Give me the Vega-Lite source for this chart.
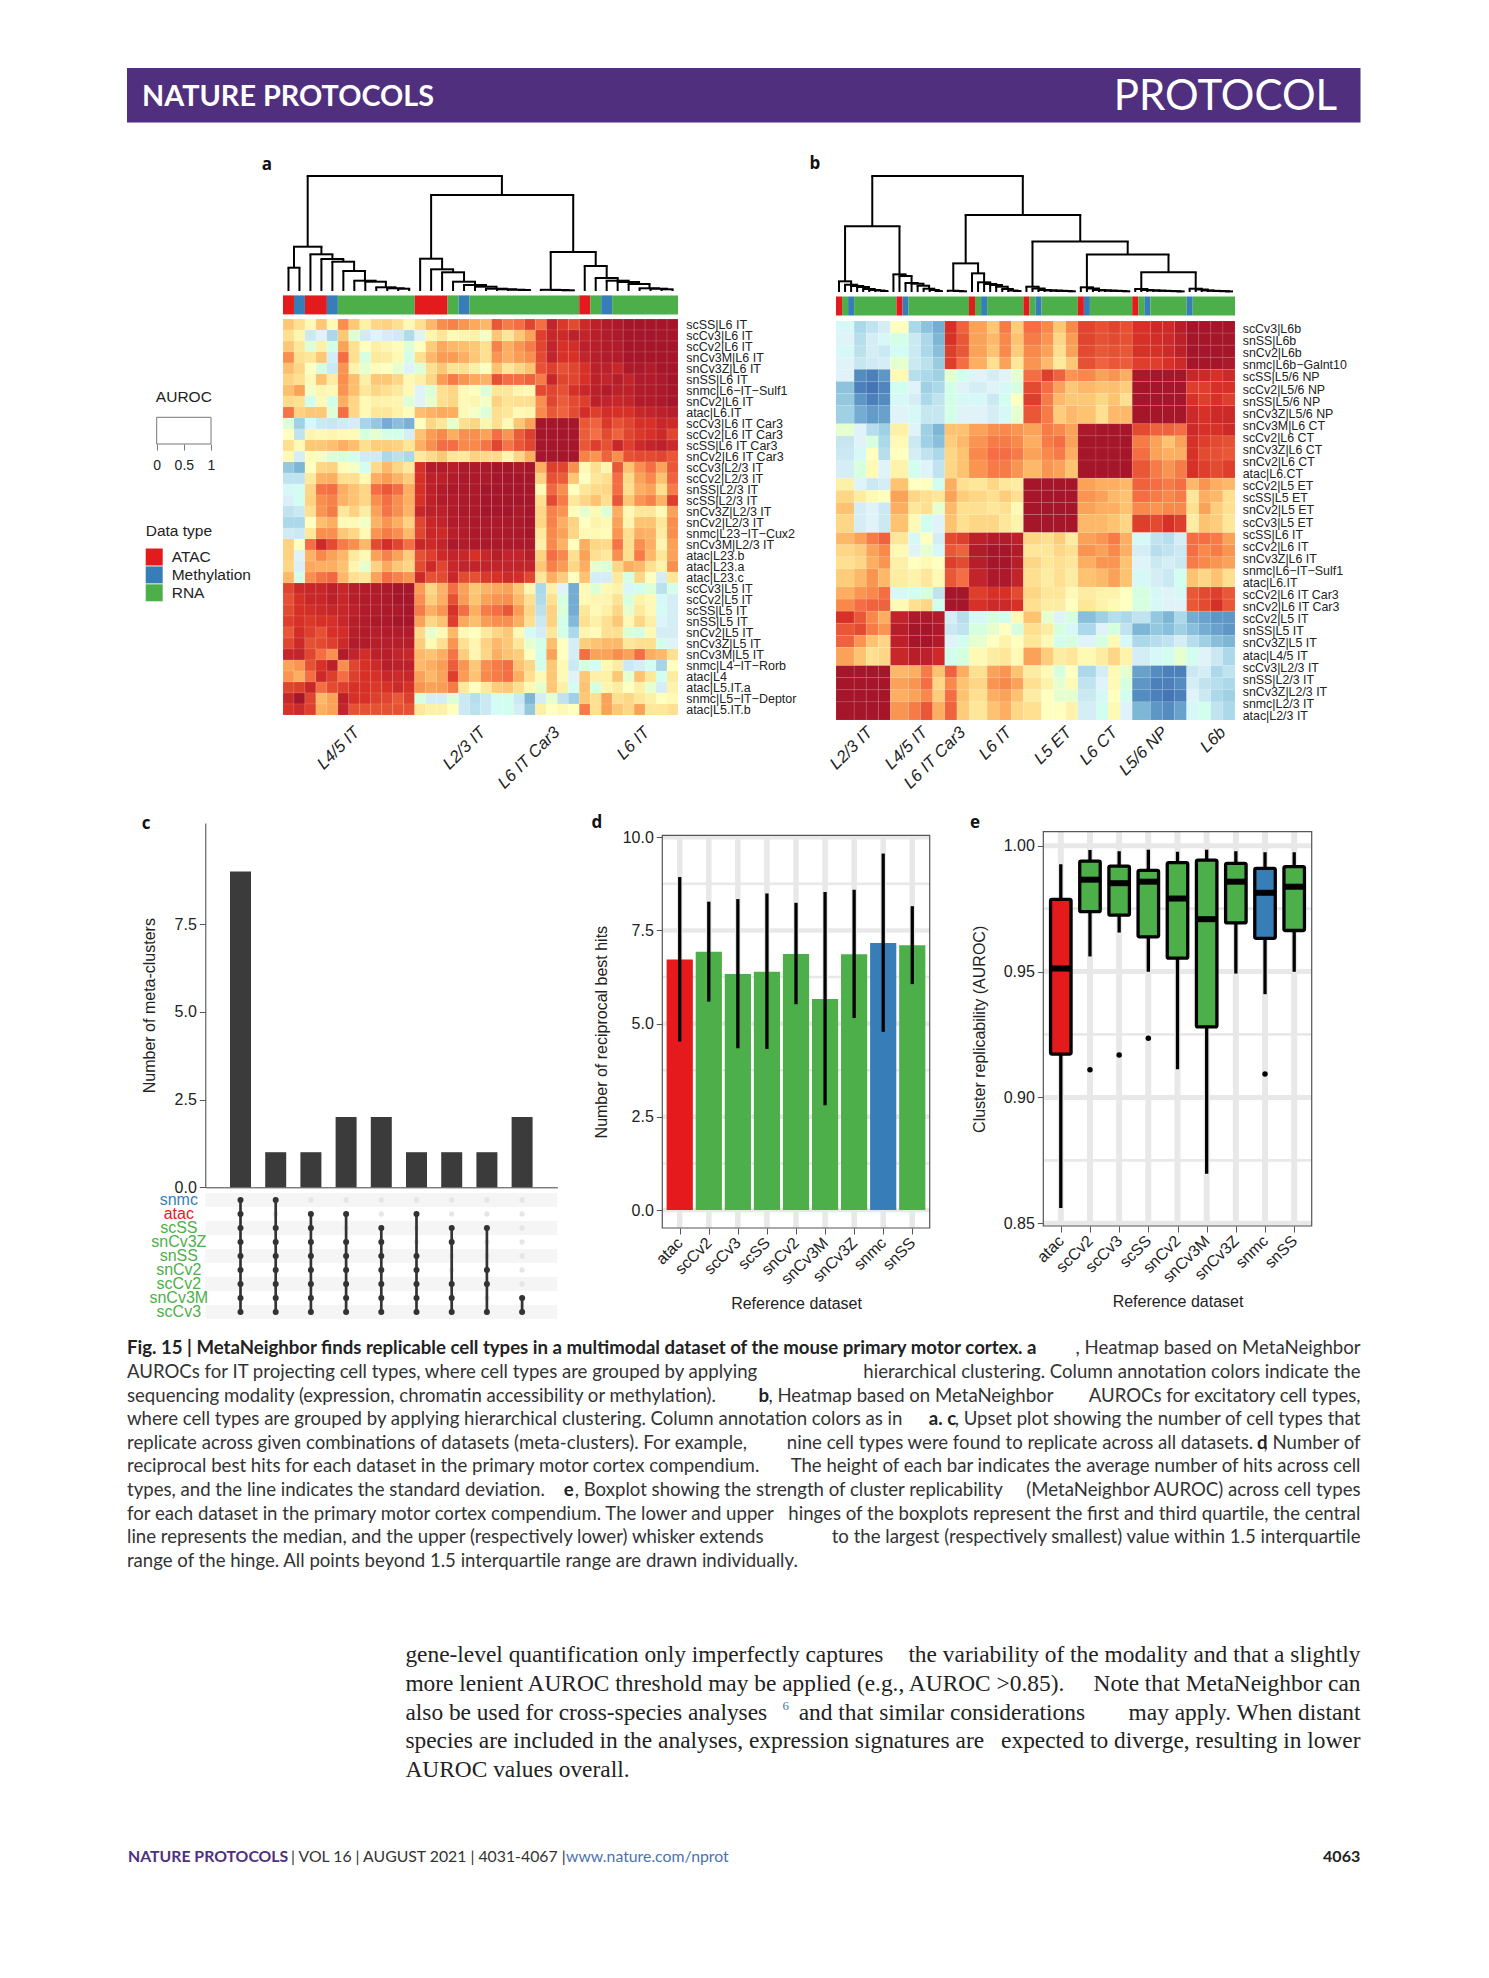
{"$schema":"https://vega.github.io/schema/vega-lite/v6.json","width":1489,"height":1978,"padding":0,"autosize":{"type":"none"},"background":"white","view":{"stroke":null},
"config":{"font":"Liberation Sans","view":{"stroke":null},"axis":{"labelFont":"Liberation Sans","titleFont":"Liberation Sans","titleFontWeight":"normal","labelColor":"#222","titleColor":"#222","grid":false},"legend":{"labelFont":"Liberation Sans","titleFont":"Liberation Sans"}},
"resolve":{"scale":{"x":"independent","y":"independent","color":"independent"},"axis":{"x":"independent","y":"independent"}},
"datasets":{
"bcols":[{"i":1,"a":0,"b":3},{"i":2,"a":3,"b":5},{"i":3,"a":5,"b":7},{"i":4,"a":7,"b":9},{"i":5,"a":9,"b":12},{"i":6,"a":12,"b":14},{"i":7,"a":14,"b":16},{"i":8,"a":16,"b":18},{"i":9,"a":18,"b":20},{"i":10,"a":20,"b":22},{"i":11,"a":22,"b":25},{"i":12,"a":25,"b":27},{"i":13,"a":27,"b":29},{"i":14,"a":29,"b":31},{"i":15,"a":31,"b":34},{"i":16,"a":34,"b":36},{"i":17,"a":36,"b":38},{"i":18,"a":38,"b":40},{"i":19,"a":40,"b":43},{"i":20,"a":43,"b":45},{"i":21,"a":45,"b":47},{"i":22,"a":47,"b":49},{"i":23,"a":49,"b":52},{"i":24,"a":52,"b":54},{"i":25,"a":54,"b":56},{"i":26,"a":56,"b":58},{"i":27,"a":58,"b":60},{"i":28,"a":60,"b":62},{"i":29,"a":62,"b":64},{"i":30,"a":64,"b":66}],
"brows":[{"i":1,"a":0,"b":2},{"i":2,"a":2,"b":4},{"i":3,"a":4,"b":6},{"i":4,"a":6,"b":8},{"i":5,"a":8,"b":10},{"i":6,"a":10,"b":12},{"i":7,"a":12,"b":14},{"i":8,"a":14,"b":17},{"i":9,"a":17,"b":19},{"i":10,"a":19,"b":21},{"i":11,"a":21,"b":23},{"i":12,"a":23,"b":26},{"i":13,"a":26,"b":28},{"i":14,"a":28,"b":30},{"i":15,"a":30,"b":32},{"i":16,"a":32,"b":35},{"i":17,"a":35,"b":37},{"i":18,"a":37,"b":39},{"i":19,"a":39,"b":41},{"i":20,"a":41,"b":44},{"i":21,"a":44,"b":46},{"i":22,"a":46,"b":48},{"i":23,"a":48,"b":50},{"i":24,"a":50,"b":52},{"i":25,"a":52,"b":54},{"i":26,"a":54,"b":57},{"i":27,"a":57,"b":59},{"i":28,"a":59,"b":61},{"i":29,"a":61,"b":63},{"i":30,"a":63,"b":66}],
"dendA":[{"l":0.5,"r":1.5,"h":23.3,"hl":0,"hr":0},{"l":10.5,"r":11.5,"h":2.3,"hl":0,"hr":0},{"l":9.5,"r":11,"h":2.7,"hl":0,"hr":2.3},{"l":8.5,"r":10.25,"h":3.7,"hl":0,"hr":2.7},{"l":7.5,"r":9.375,"h":9.3,"hl":0,"hr":3.7},{"l":6.5,"r":8.44,"h":10.3,"hl":0,"hr":9.3},{"l":5.5,"r":7.47,"h":20,"hl":0,"hr":10.3},{"l":4.5,"r":6.48,"h":29.3,"hl":0,"hr":20},{"l":3.5,"r":5.49,"h":32,"hl":0,"hr":29.3},{"l":2.5,"r":4.5,"h":36.7,"hl":0,"hr":32},{"l":1,"r":3.5,"h":44.3,"hl":23.3,"hr":36.7},{"l":21.5,"r":22.5,"h":1,"hl":0,"hr":0},{"l":20.5,"r":22,"h":1.3,"hl":0,"hr":1},{"l":19.5,"r":21.25,"h":1.7,"hl":0,"hr":1.3},{"l":18.5,"r":20.4,"h":2.3,"hl":0,"hr":1.7},{"l":17.5,"r":19.45,"h":4.3,"hl":0,"hr":2.3},{"l":16.5,"r":18.5,"h":6,"hl":0,"hr":4.3},{"l":15.5,"r":17.5,"h":9.3,"hl":0,"hr":6},{"l":14.5,"r":16.5,"h":18.7,"hl":0,"hr":9.3},{"l":13.5,"r":15.5,"h":21.7,"hl":0,"hr":18.7},{"l":12.5,"r":14.5,"h":32.3,"hl":0,"hr":21.7},{"l":25.5,"r":26.5,"h":0.7,"hl":0,"hr":0},{"l":24.5,"r":26,"h":1,"hl":0,"hr":0.7},{"l":23.5,"r":25.25,"h":1.2,"hl":0,"hr":1},{"l":34.5,"r":35.5,"h":1.7,"hl":0,"hr":0},{"l":33.5,"r":35,"h":2.3,"hl":0,"hr":1.7},{"l":32.5,"r":34.25,"h":2.7,"hl":0,"hr":2.3},{"l":31.5,"r":33.4,"h":7,"hl":0,"hr":2.7},{"l":30.5,"r":32.45,"h":9,"hl":0,"hr":7},{"l":29.5,"r":31.5,"h":10.3,"hl":0,"hr":9},{"l":28.5,"r":30.5,"h":13,"hl":0,"hr":10.3},{"l":27.5,"r":29.5,"h":25,"hl":0,"hr":13},{"l":24.4,"r":28.5,"h":39,"hl":1.2,"hr":25},{"l":13.5,"r":26.45,"h":96,"hl":32.3,"hr":39},{"l":2.25,"r":19.95,"h":115,"hl":44.3,"hr":96}],
"dendB":[{"l":7.5,"r":8.5,"h":1,"hl":0,"hr":0},{"l":6.5,"r":8,"h":1.5,"hl":0,"hr":1},{"l":5.5,"r":7.25,"h":2,"hl":0,"hr":1.5},{"l":4.5,"r":6.4,"h":3,"hl":0,"hr":2},{"l":3.5,"r":5.45,"h":5,"hl":0,"hr":3},{"l":2.5,"r":4.5,"h":6,"hl":0,"hr":5},{"l":1.5,"r":3.5,"h":7.3,"hl":0,"hr":6},{"l":0.5,"r":2.5,"h":10.7,"hl":0,"hr":7.3},{"l":16.5,"r":17.5,"h":1,"hl":0,"hr":0},{"l":15.5,"r":17,"h":2,"hl":0,"hr":1},{"l":14.5,"r":16.25,"h":3.3,"hl":0,"hr":2},{"l":13.5,"r":15.4,"h":6.3,"hl":0,"hr":3.3},{"l":12.5,"r":14.45,"h":8.3,"hl":0,"hr":6.3},{"l":11.5,"r":13.5,"h":9,"hl":0,"hr":8.3},{"l":10.5,"r":12.5,"h":16,"hl":0,"hr":9},{"l":9.5,"r":11.5,"h":17.7,"hl":0,"hr":16},{"l":1.5,"r":10.5,"h":66,"hl":10.7,"hr":17.7},{"l":20.5,"r":21.5,"h":0.7,"hl":0,"hr":0},{"l":19.5,"r":21,"h":1,"hl":0,"hr":0.7},{"l":18.5,"r":20.25,"h":1.3,"hl":0,"hr":1},{"l":29.5,"r":30.5,"h":1,"hl":0,"hr":0},{"l":28.5,"r":30,"h":1.5,"hl":0,"hr":1},{"l":27.5,"r":29.25,"h":3,"hl":0,"hr":1.5},{"l":26.5,"r":28.4,"h":5.3,"hl":0,"hr":3},{"l":25.5,"r":27.45,"h":7,"hl":0,"hr":5.3},{"l":24.5,"r":26.5,"h":8,"hl":0,"hr":7},{"l":23.5,"r":25.5,"h":9.7,"hl":0,"hr":8},{"l":22.5,"r":24.5,"h":18.7,"hl":0,"hr":9.7},{"l":19.4,"r":23.5,"h":28.7,"hl":1.3,"hr":18.7},{"l":38.5,"r":39.5,"h":0.7,"hl":0,"hr":0},{"l":37.5,"r":39,"h":1,"hl":0,"hr":0.7},{"l":36.5,"r":38.25,"h":1.2,"hl":0,"hr":1},{"l":35.5,"r":37.4,"h":1.4,"hl":0,"hr":1.2},{"l":34.5,"r":36.45,"h":1.6,"hl":0,"hr":1.4},{"l":33.5,"r":35.5,"h":2,"hl":0,"hr":1.6},{"l":32.5,"r":34.5,"h":3.5,"hl":0,"hr":2},{"l":31.5,"r":33.5,"h":5.3,"hl":0,"hr":3.5},{"l":47.5,"r":48.5,"h":0.7,"hl":0,"hr":0},{"l":46.5,"r":48,"h":1,"hl":0,"hr":0.7},{"l":45.5,"r":47.25,"h":1.2,"hl":0,"hr":1},{"l":44.5,"r":46.4,"h":1.4,"hl":0,"hr":1.2},{"l":43.5,"r":45.45,"h":1.6,"hl":0,"hr":1.4},{"l":42.5,"r":44.5,"h":2,"hl":0,"hr":1.6},{"l":41.5,"r":43.5,"h":3.5,"hl":0,"hr":2},{"l":40.5,"r":42.5,"h":4.7,"hl":0,"hr":3.5},{"l":56.5,"r":57.5,"h":0.6,"hl":0,"hr":0},{"l":55.5,"r":57,"h":0.8,"hl":0,"hr":0.6},{"l":54.5,"r":56.25,"h":1,"hl":0,"hr":0.8},{"l":53.5,"r":55.4,"h":1.2,"hl":0,"hr":1},{"l":52.5,"r":54.45,"h":1.4,"hl":0,"hr":1.2},{"l":51.5,"r":53.5,"h":1.6,"hl":0,"hr":1.4},{"l":50.5,"r":52.5,"h":2,"hl":0,"hr":1.6},{"l":49.5,"r":51.5,"h":3,"hl":0,"hr":2},{"l":64.5,"r":65.5,"h":0.6,"hl":0,"hr":0},{"l":63.5,"r":65,"h":0.8,"hl":0,"hr":0.6},{"l":62.5,"r":64.25,"h":1,"hl":0,"hr":0.8},{"l":61.5,"r":63.4,"h":1.2,"hl":0,"hr":1},{"l":60.5,"r":62.45,"h":1.6,"hl":0,"hr":1.2},{"l":59.5,"r":61.5,"h":2.5,"hl":0,"hr":1.6},{"l":58.5,"r":60.5,"h":3.3,"hl":0,"hr":2.5},{"l":50.5,"r":59.5,"h":19.7,"hl":3,"hr":3.3},{"l":41.5,"r":55,"h":37.7,"hl":4.7,"hr":19.7},{"l":32.5,"r":48.25,"h":50.7,"hl":5.3,"hr":37.7},{"l":21.45,"r":40.4,"h":77.3,"hl":28.7,"hr":50.7},{"l":6,"r":30.9,"h":116.3,"hl":66,"hr":77.3}],
"page":[{"k":"hdrL","x":0.0954,"y":0.0492,"t":"NATURE PROTOCOLS"},{"k":"hdrR","x":0.898,"y":0.049,"t":"PROTOCOL"},{"k":"letter","x":0.1793,"y":0.0834,"t":"a"},{"k":"letter","x":0.5473,"y":0.0829,"t":"b"},{"k":"letter","x":0.0981,"y":0.4166,"t":"c"},{"k":"letter","x":0.4009,"y":0.4161,"t":"d"},{"k":"letter","x":0.6548,"y":0.4161,"t":"e"},{"k":"group","x":0.2398,"y":0.369,"t":"L4/5 IT"},{"k":"group","x":0.3244,"y":0.369,"t":"L2/3 IT"},{"k":"group","x":0.3741,"y":0.369,"t":"L6 IT Car3"},{"k":"group","x":0.4345,"y":0.369,"t":"L6 IT"},{"k":"group","x":0.5843,"y":0.369,"t":"L2/3 IT"},{"k":"group","x":0.6212,"y":0.369,"t":"L4/5 IT"},{"k":"group","x":0.6467,"y":0.369,"t":"L6 IT Car3"},{"k":"group","x":0.6776,"y":0.369,"t":"L6 IT"},{"k":"group","x":0.7179,"y":0.369,"t":"L5 ET"},{"k":"group","x":0.7488,"y":0.369,"t":"L6 CT"},{"k":"group","x":0.7824,"y":0.369,"t":"L5/6 NP"},{"k":"group","x":0.8214,"y":0.369,"t":"L6b"},{"k":"footP","x":0.086,"y":0.9387,"t":"NATURE PROTOCOLS"},{"k":"footD","x":0.1955,"y":0.9387,"t":"| VOL 16 | AUGUST 2021 | 4031-4067 |"},{"k":"footU","x":0.3801,"y":0.9387,"t":"www.nature.com/nprot"},{"k":"footN","x":0.9135,"y":0.9387,"t":"4063"}]
},
"layer":[
{"data":{"values":[{"a":0,"b":1,"c":0,"d":1}]},"mark":{"type":"rect","color":"#4f2f7e"},"encoding":{"x":{"field":"a","type":"quantitative","axis":null,"scale":{"domain":[0,1],"range":[127,1360.5]}},"x2":{"field":"b"},"y":{"field":"c","type":"quantitative","axis":null,"scale":{"domain":[0,1],"range":[68,122.6]}},"y2":{"field":"d"}}},
{"data":{"name":"page"},"encoding":{"x":{"field":"x","type":"quantitative","axis":null,"scale":{"domain":[0,1],"range":[0,1489]}},"y":{"field":"y","type":"quantitative","axis":null,"scale":{"domain":[0,1],"range":[0,1978]}},"text":{"field":"t"}},"layer":[
{"transform":[{"filter":"datum.k=='hdrL'"}],"mark":{"type":"text","align":"left","baseline":"middle","font":"Lato","fontWeight":"bold","fontSize":28.8,"color":"white"}},
{"transform":[{"filter":"datum.k=='hdrR'"}],"mark":{"type":"text","align":"right","baseline":"middle","font":"Lato","fontSize":42,"color":"white"}},
{"transform":[{"filter":"datum.k=='letter'"}],"mark":{"type":"text","align":"center","baseline":"middle","font":"Open Sans","fontWeight":"bold","fontSize":17,"color":"#111"}},
{"transform":[{"filter":"datum.k=='group'"}],"mark":{"type":"text","align":"right","baseline":"middle","angle":315,"fontStyle":"italic","fontSize":16.8,"color":"#222"}},
{"transform":[{"filter":"datum.k=='footP'"}],"mark":{"type":"text","align":"left","baseline":"middle","font":"Lato","fontWeight":"bold","fontSize":15.8,"color":"#4f2f7e"}},
{"transform":[{"filter":"datum.k=='footD'"}],"mark":{"type":"text","align":"left","baseline":"middle","font":"Lato","fontSize":15.8,"color":"#333"}},
{"transform":[{"filter":"datum.k=='footU'"}],"mark":{"type":"text","align":"left","baseline":"middle","font":"Lato","fontSize":15.8,"color":"#4a72b0"}},
{"transform":[{"filter":"datum.k=='footN'"}],"mark":{"type":"text","align":"right","baseline":"middle","font":"Lato","fontWeight":"bold","fontSize":16,"color":"#222"}}
]},
{"data":{"values":[{"a":0,"b":1,"c":0,"d":1}]},"layer":[
{"mark":{"type":"rect","fill":null,"stroke":"#777","strokeWidth":1},"encoding":{"x":{"field":"a","type":"quantitative","scale":{"domain":[0,1],"range":[156.7,211]},"axis":{"orient":"bottom","offset":-1534,"values":[0,0.5,1],"format":"~g","domain":false,"tickColor":"#777","tickSize":6,"labelFontSize":14,"labelPadding":8,"title":null,"labelFlush":false,"labelOverlap":false}},"x2":{"field":"b"},"y":{"field":"c","type":"quantitative","axis":null,"scale":{"domain":[0,1],"range":[444,417.3]}},"y2":{"field":"d"}}}
]},
{"data":{"values":[{"x":0.5,"y":1.76,"t":"AUROC"}]},"mark":{"type":"text","align":"center","baseline":"middle","fontSize":15.5,"color":"#222"},"encoding":{"x":{"field":"x","type":"quantitative","axis":null,"scale":{"domain":[0,1],"range":[156.7,211]}},"y":{"field":"y","type":"quantitative","axis":null,"scale":{"domain":[0,1],"range":[444,417.3]}},"text":{"field":"t"}}},
{"data":{"name":"dendA"},"layer":[
{"mark":{"type":"rule","color":"#000","strokeWidth":2,"strokeCap":"square"},"encoding":{"x":{"field":"l","type":"quantitative","axis":null,"scale":{"domain":[0,36],"range":[283,678],"nice":false}},"x2":{"field":"r"},"y":{"field":"h","type":"quantitative","axis":null,"scale":{"domain":[0,115],"range":[291,176],"nice":false}}}},
{"mark":{"type":"rule","color":"#000","strokeWidth":2},"encoding":{"x":{"field":"l","type":"quantitative","axis":null},"y":{"field":"hl","type":"quantitative","axis":null},"y2":{"field":"h"}}},
{"mark":{"type":"rule","color":"#000","strokeWidth":2},"encoding":{"x":{"field":"r","type":"quantitative","axis":null},"y":{"field":"hr","type":"quantitative","axis":null},"y2":{"field":"h"}}}
]},
{"data":{"name":"dendB"},"layer":[
{"mark":{"type":"rule","color":"#000","strokeWidth":2,"strokeCap":"square"},"encoding":{"x":{"field":"l","type":"quantitative","axis":null,"scale":{"domain":[0,66],"range":[836,1235],"nice":false}},"x2":{"field":"r"},"y":{"field":"h","type":"quantitative","axis":null,"scale":{"domain":[0,116.3],"range":[292,176],"nice":false}}}},
{"mark":{"type":"rule","color":"#000","strokeWidth":2},"encoding":{"x":{"field":"l","type":"quantitative","axis":null},"y":{"field":"hl","type":"quantitative","axis":null},"y2":{"field":"h"}}},
{"mark":{"type":"rule","color":"#000","strokeWidth":2},"encoding":{"x":{"field":"r","type":"quantitative","axis":null},"y":{"field":"hr","type":"quantitative","axis":null},"y2":{"field":"h"}}}
]},
{"data":{"values":[{"a":0,"b":1,"t":"ATAC"},{"a":1,"b":2,"t":"Methylation"},{"a":2,"b":4,"t":"ATAC"},{"a":4,"b":5,"t":"Methylation"},{"a":5,"b":12,"t":"RNA"},{"a":12,"b":15,"t":"ATAC"},{"a":15,"b":16,"t":"RNA"},{"a":16,"b":17,"t":"Methylation"},{"a":17,"b":27,"t":"RNA"},{"a":27,"b":28,"t":"ATAC"},{"a":28,"b":29,"t":"RNA"},{"a":29,"b":30,"t":"Methylation"},{"a":30,"b":36,"t":"RNA"}]},"mark":"rect","encoding":{"x":{"field":"a","type":"quantitative","axis":null,"scale":{"domain":[0,36],"range":[283,678]}},"x2":{"field":"b"},"y":{"datum":0,"type":"quantitative","axis":null,"scale":{"domain":[0,1],"range":[314.4,295.4]}},"y2":{"datum":1},"color":{"field":"t","type":"nominal","scale":{"domain":["ATAC","Methylation","RNA"],"range":["#e41a1c","#377eb8","#4daf4a"]},"legend":{"orient":"none","legendX":145.7,"legendY":524,"title":"Data type","titleFontSize":15.5,"titleFontWeight":"normal","titleColor":"#222","titlePadding":9,"labelFontSize":15.5,"labelColor":"#222","labelOffset":9,"symbolType":"square","symbolSize":289,"symbolStrokeWidth":0,"rowPadding":0.9,"padding":0,"symbolOpacity":1}}}},
{"data":{"values":[{"a":0,"b":1,"t":"ATAC"},{"a":1,"b":2,"t":"RNA"},{"a":2,"b":3,"t":"Methylation"},{"a":3,"b":10,"t":"RNA"},{"a":10,"b":11,"t":"ATAC"},{"a":11,"b":12,"t":"Methylation"},{"a":12,"b":22,"t":"RNA"},{"a":22,"b":23,"t":"ATAC"},{"a":23,"b":24,"t":"RNA"},{"a":24,"b":25,"t":"Methylation"},{"a":25,"b":31,"t":"RNA"},{"a":31,"b":32,"t":"ATAC"},{"a":32,"b":33,"t":"RNA"},{"a":33,"b":34,"t":"Methylation"},{"a":34,"b":40,"t":"RNA"},{"a":40,"b":41,"t":"ATAC"},{"a":41,"b":42,"t":"Methylation"},{"a":42,"b":49,"t":"RNA"},{"a":49,"b":50,"t":"ATAC"},{"a":50,"b":51,"t":"RNA"},{"a":51,"b":52,"t":"Methylation"},{"a":52,"b":58,"t":"RNA"},{"a":58,"b":59,"t":"Methylation"},{"a":59,"b":66,"t":"RNA"}]},"mark":"rect","encoding":{"x":{"field":"a","type":"quantitative","axis":null,"scale":{"domain":[0,66],"range":[836,1235]}},"x2":{"field":"b"},"y":{"datum":0,"type":"quantitative","axis":null,"scale":{"domain":[0,1],"range":[315.5,296.5]}},"y2":{"datum":1},"color":{"field":"t","type":"nominal","legend":null,"scale":{"domain":["ATAC","Methylation","RNA"],"range":["#e41a1c","#377eb8","#4daf4a"]}}}},
{"data":{"values":[
{"l":"scSS|L6 IT","v":[65,60,52,65,52,75,65,55,62,63,60,52,60,68,75,77,74,71,68,84,78,80,87,80,94,89,86,92,95,97,98,99,99,99,99,99]},
{"l":"scCv3|L6 IT","v":[60,53,36,40,30,65,47,37,41,38,37,31,40,53,58,52,53,54,49,65,58,65,72,88,93,92,95,94,96,97,98,99,99,99,99,99]},
{"l":"scCv2|L6 IT","v":[65,58,47,55,45,72,60,50,55,53,51,47,50,64,71,68,67,65,60,77,70,74,78,87,94,90,91,95,96,97,97,99,99,99,99,99]},
{"l":"snCv3M|L6 IT","v":[75,60,58,65,38,80,60,46,57,56,52,45,60,68,73,73,70,65,60,74,70,73,75,86,94,90,90,94,96,97,97,99,99,99,99,99]},
{"l":"snCv3Z|L6 IT","v":[67,62,50,46,36,74,54,48,51,50,48,40,47,60,65,59,60,55,50,66,58,62,66,85,88,85,87,90,95,95,93,98,98,97,99,99]},
{"l":"snSS|L6 IT","v":[63,60,52,66,56,75,67,55,65,65,62,52,55,62,73,78,74,71,69,85,80,80,82,78,93,87,87,90,95,94,96,94,97,97,98,99]},
{"l":"snmc|L6−IT−Sulf1","v":[67,72,49,53,52,74,67,58,62,60,57,52,40,47,60,62,52,50,47,58,58,53,52,86,87,85,90,93,95,97,95,95,97,97,98,99]},
{"l":"snCv2|L6 IT","v":[61,60,44,52,45,70,62,52,55,54,53,47,40,48,60,62,52,53,49,63,59,60,60,75,87,83,86,88,95,94,93,94,97,97,98,99]},
{"l":"atac|L6.IT","v":[79,63,65,65,47,80,62,52,58,58,54,51,67,69,71,70,52,49,47,60,58,52,53,76,84,82,86,91,88,91,90,90,93,94,95,96]},
{"l":"scCv3|L6 IT Car3","v":[47,28,42,36,35,37,38,29,26,20,24,21,50,62,58,48,60,62,53,60,52,65,72,99,99,99,99,84,82,89,85,87,90,90,93,92]},
{"l":"scCv2|L6 IT Car3","v":[50,34,53,52,53,52,52,46,48,45,45,38,66,73,76,70,75,75,72,80,74,83,88,99,99,99,99,83,80,86,82,87,89,90,92,87]},
{"l":"scSS|L6 IT Car3","v":[60,52,65,65,67,70,67,60,64,64,63,58,70,75,80,80,76,76,79,87,79,84,87,99,99,99,99,84,88,85,93,88,92,94,95,92]},
{"l":"snCv2|L6 IT Car3","v":[52,38,51,49,47,46,44,37,37,30,33,30,57,61,65,58,57,63,61,61,53,62,70,99,99,99,99,77,74,82,75,85,86,86,87,84]},
{"l":"scCv3|L2/3 IT","v":[26,22,50,62,63,51,49,44,61,68,62,57,90,97,97,96,98,98,98,99,99,98,99,70,88,87,75,52,60,53,84,66,75,80,72,84]},
{"l":"scCv2|L2/3 IT","v":[34,34,57,69,70,60,60,52,70,73,69,64,90,95,95,97,98,98,98,99,99,99,99,63,85,83,65,50,58,60,80,61,72,76,66,82]},
{"l":"snSS|L2/3 IT","v":[42,43,62,79,80,70,66,62,80,84,80,70,90,95,97,98,98,98,99,99,99,99,99,52,81,75,50,58,61,62,80,60,70,72,60,78]},
{"l":"scSS|L2/3 IT","v":[39,44,63,75,77,69,66,62,75,80,75,70,90,95,97,97,98,98,99,99,99,99,99,60,86,78,58,62,66,60,84,65,74,77,69,88]},
{"l":"snCv3Z|L2/3 IT","v":[34,36,60,74,78,58,63,56,72,79,75,69,93,95,95,97,98,98,99,99,99,98,99,62,77,74,51,48,52,47,70,52,58,58,52,72]},
{"l":"snCv2|L2/3 IT","v":[30,30,50,67,70,52,52,49,69,74,70,63,87,93,94,97,97,98,98,98,98,98,99,62,77,70,63,50,54,52,72,53,66,66,58,75]},
{"l":"snmc|L23−IT−Cux2","v":[37,36,58,75,75,65,62,52,74,78,75,68,87,93,92,96,97,98,98,98,98,98,99,57,76,72,62,52,52,51,74,60,70,69,56,75]},
{"l":"snCv3M|L2/3 IT","v":[63,50,80,92,86,78,75,68,86,91,87,80,93,92,94,98,97,98,98,98,98,98,98,55,76,69,50,70,62,61,79,60,75,70,53,72]},
{"l":"atac|L23.b","v":[63,40,69,76,72,68,57,52,72,77,72,64,85,88,92,94,93,90,93,96,94,94,96,63,80,76,60,72,60,57,75,60,78,68,58,72]},
{"l":"atac|L23.a","v":[62,39,71,70,70,66,53,48,63,71,65,62,86,92,87,93,94,94,94,94,94,94,94,65,77,73,62,70,48,47,62,70,68,60,54,75]},
{"l":"atac|L23.c","v":[68,45,75,79,81,68,60,58,72,80,77,74,92,85,86,93,86,85,89,90,92,91,87,58,70,64,50,66,38,38,57,46,62,50,38,58]},
{"l":"scCv3|L5 IT","v":[87,92,93,93,95,93,96,97,97,98,99,99,73,62,69,80,72,65,69,71,72,65,53,30,55,40,20,52,47,52,54,41,44,47,33,45]},
{"l":"scCv2|L5 IT","v":[85,90,93,93,95,93,96,97,97,98,99,99,75,64,70,85,73,66,72,74,75,68,60,31,60,46,20,52,53,53,59,46,54,52,42,38]},
{"l":"scSS|L5 IT","v":[86,90,91,92,93,93,95,97,97,98,98,99,78,70,74,90,80,70,78,80,84,73,62,33,63,47,20,58,52,55,62,48,57,52,43,38]},
{"l":"snSS|L5 IT","v":[88,90,89,90,90,93,96,97,98,98,99,99,72,62,66,88,71,67,73,75,75,70,60,36,63,45,23,60,55,60,65,52,62,55,41,38]},
{"l":"snCv2|L5 IT","v":[84,91,88,85,90,91,96,97,96,97,97,97,61,48,52,68,52,50,57,62,65,52,43,38,58,45,30,53,51,60,60,47,46,52,38,38]},
{"l":"snCv3Z|L5 IT","v":[87,92,85,86,88,92,97,97,96,96,96,96,64,52,60,74,60,53,63,68,65,58,48,45,67,50,38,64,66,68,68,58,60,60,45,40]},
{"l":"snCv3M|L5 IT","v":[93,94,87,80,75,97,94,91,95,96,94,93,68,66,70,79,64,53,62,70,66,64,50,44,72,50,38,80,72,72,75,72,80,70,68,60]},
{"l":"snmc|L4−IT−Rorb","v":[72,74,85,90,95,75,87,90,92,96,95,95,68,70,73,83,74,65,75,78,80,66,62,45,65,52,36,46,43,52,56,36,38,43,29,50]},
{"l":"atac|L4","v":[74,70,80,92,88,80,88,90,90,93,92,93,72,68,72,88,73,66,76,78,80,70,60,52,65,52,40,65,55,55,65,48,66,58,44,56]},
{"l":"atac|L5.IT.a","v":[87,88,93,80,86,88,90,90,89,90,92,90,74,72,73,78,57,50,57,64,65,60,52,48,65,55,43,66,46,53,56,50,55,48,38,54]},
{"l":"snmc|L5−IT−Deptor","v":[93,99,87,68,72,95,90,90,88,87,84,88,46,38,38,47,36,32,36,43,44,36,22,38,48,34,28,65,60,72,60,62,58,55,50,52]},
{"l":"atac|L5.IT.b","v":[90,92,88,70,72,94,85,85,85,85,85,85,58,55,55,50,36,33,36,43,44,38,26,55,50,52,50,78,60,72,65,62,72,58,58,60]}
]},"transform":[{"flatten":["v"]},{"window":[{"op":"row_number","as":"c"}],"groupby":["l"]}],"mark":{"type":"rect","stroke":"#fff","strokeWidth":0.4,"strokeOpacity":0.25},"encoding":{"x":{"field":"c","type":"ordinal","axis":null,"scale":{"range":[283,678],"paddingInner":0,"paddingOuter":0}},"y":{"field":"l","type":"nominal","sort":null,"scale":{"range":[319,715],"paddingInner":0,"paddingOuter":0},"axis":{"orient":"right","offset":-811,"title":null,"domain":false,"ticks":false,"labelPadding":7.7,"labelFontSize":12.5,"labelColor":"#222","labelOverlap":false,"labelLimit":0}},"color":{"field":"v","type":"quantitative","legend":null,"scale":{"domain":[0,10,20,30,40,50,60,70,80,90,100],"range":["#313695","#4575b4","#74add1","#abd9e9","#e0f3f8","#ffffbf","#fee090","#fdae61","#f46d43","#d73027","#a0142a"]}}}},
{"data":{"values":[
{"r":1,"v":[42,30,34,38,50,30,25,20,90,82,72,65,78,64,80,76,65,76,87,85,87,85,90,92,92,96,99,99,99,99]},
{"r":2,"v":[40,32,38,42,45,36,30,22,90,84,72,68,76,66,78,74,62,73,87,85,86,85,90,91,92,95,99,99,99,99]},
{"r":3,"v":[42,33,38,36,43,36,30,24,88,84,72,66,76,64,76,72,60,72,86,84,85,84,90,90,92,95,99,99,99,99]},
{"r":4,"v":[40,35,37,38,48,36,33,27,88,80,70,60,72,58,74,68,57,65,85,82,84,83,88,88,90,92,99,99,99,98]},
{"r":5,"v":[40,14,12,16,52,32,30,28,48,44,40,38,40,48,80,88,82,74,76,72,74,70,98,99,99,99,93,92,90,92]},
{"r":6,"v":[25,12,10,13,44,40,28,30,45,40,38,40,42,46,86,80,72,65,68,66,67,64,99,99,99,99,88,88,90,90]},
{"r":7,"v":[26,16,12,14,42,38,30,34,45,42,42,36,44,50,88,78,68,65,65,62,66,60,99,99,99,99,90,88,90,88]},
{"r":8,"v":[28,20,17,18,40,42,35,35,45,40,40,38,42,48,84,78,64,68,66,60,68,68,99,99,99,99,92,90,92,92]},
{"r":9,"v":[48,40,32,28,55,40,28,22,66,66,72,75,76,74,72,78,76,72,98,99,99,99,86,82,82,80,92,90,90,92]},
{"r":10,"v":[35,40,46,30,52,36,28,24,64,68,74,78,78,76,70,78,80,72,99,99,99,99,78,72,66,72,90,88,86,85]},
{"r":11,"v":[36,42,50,32,50,38,34,30,62,66,76,80,80,78,72,76,78,70,99,99,99,99,80,72,70,70,90,86,85,84]},
{"r":12,"v":[38,46,52,40,54,44,40,34,62,66,74,78,78,74,68,74,72,66,99,99,99,99,84,78,74,78,90,88,86,88]},
{"r":13,"v":[55,40,36,38,66,50,50,44,70,60,58,62,58,56,99,99,99,99,72,70,70,68,82,80,78,80,68,74,70,68]},
{"r":14,"v":[62,56,52,50,72,62,60,58,72,64,62,60,64,60,99,99,99,99,74,72,68,66,80,78,76,78,58,70,68,60]},
{"r":15,"v":[66,38,40,36,70,58,60,48,68,60,60,58,60,52,99,99,99,99,72,70,70,66,76,74,76,76,60,72,64,60]},
{"r":16,"v":[62,38,40,36,66,52,44,40,66,60,62,62,58,54,99,99,99,99,68,68,66,62,88,86,90,88,56,66,64,58]},
{"r":17,"v":[68,72,78,82,58,42,50,38,86,88,95,97,97,95,62,60,64,56,72,74,78,70,42,34,32,38,80,80,78,72]},
{"r":18,"v":[62,64,72,76,52,40,48,42,84,82,97,99,99,97,58,58,62,60,74,72,76,70,38,32,34,36,80,76,78,74]},
{"r":19,"v":[60,62,70,74,55,50,52,50,88,86,96,99,99,96,62,58,60,58,70,74,74,66,40,36,38,36,78,76,74,72]},
{"r":20,"v":[64,68,74,68,56,54,58,52,84,80,94,98,98,94,60,56,60,56,66,68,72,66,42,38,36,44,66,62,66,60]},
{"r":21,"v":[70,74,76,80,42,44,46,34,99,99,88,90,90,86,62,58,58,52,56,54,54,50,46,42,40,42,84,86,88,84]},
{"r":22,"v":[76,80,82,82,52,60,62,44,99,99,90,92,92,90,60,56,56,50,58,54,52,50,46,42,40,40,84,86,90,84]},
{"r":23,"v":[90,84,76,70,94,98,98,97,38,32,42,46,44,52,66,48,40,46,24,28,32,30,34,26,22,30,20,18,16,16]},
{"r":24,"v":[84,86,78,74,96,99,99,98,36,34,46,48,50,46,60,56,46,42,30,40,46,34,22,26,24,28,24,20,18,16]},
{"r":25,"v":[82,74,66,62,95,99,99,97,40,44,48,50,54,50,58,52,44,46,40,46,52,42,30,32,34,38,32,28,24,22]},
{"r":26,"v":[72,66,60,62,93,96,95,92,44,46,52,56,58,52,72,64,56,58,52,56,62,54,38,42,44,48,44,40,36,30]},
{"r":27,"v":[99,99,99,99,68,70,78,66,82,70,60,72,74,66,56,52,46,50,30,38,52,48,18,14,12,12,36,38,30,34]},
{"r":28,"v":[99,99,99,99,72,74,80,62,76,66,62,74,76,72,60,54,48,52,34,40,52,46,16,12,12,14,38,34,32,30]},
{"r":29,"v":[99,99,99,99,70,72,76,64,80,66,60,70,72,66,56,50,48,48,36,42,50,44,14,12,10,12,40,36,30,28]},
{"r":30,"v":[99,99,99,99,74,78,84,70,82,64,58,66,70,62,60,50,50,54,38,44,52,40,22,16,14,18,42,44,34,30]}
]},"transform":[{"flatten":["v"]},{"window":[{"op":"row_number","as":"c"}],"groupby":["r"]},{"lookup":"c","from":{"data":{"name":"bcols"},"key":"i","fields":["a","b"]},"as":["x0","x1"]},{"lookup":"r","from":{"data":{"name":"brows"},"key":"i","fields":["a","b"]},"as":["y0","y1"]}],"mark":{"type":"rect","stroke":"#fff","strokeWidth":0.3,"strokeOpacity":0.25},"encoding":{"x":{"field":"x0","type":"quantitative","axis":null,"scale":{"domain":[0,66],"range":[836,1235]}},"x2":{"field":"x1"},"y":{"field":"y0","type":"quantitative","axis":null,"scale":{"domain":[0,66],"range":[321,720]}},"y2":{"field":"y1"},"color":{"field":"v","type":"quantitative","legend":null,"scale":{"domain":[0,10,20,30,40,50,60,70,80,90,100],"range":["#313695","#4575b4","#74add1","#abd9e9","#e0f3f8","#ffffbf","#fee090","#fdae61","#f46d43","#d73027","#a0142a"]}}}},
{"data":{"values":[{"y":1,"t":"scCv3|L6b"},{"y":3,"t":"snSS|L6b"},{"y":5,"t":"snCv2|L6b"},{"y":7,"t":"snmc|L6b−Galnt10"},{"y":9,"t":"scSS|L5/6 NP"},{"y":11,"t":"scCv2|L5/6 NP"},{"y":13,"t":"snSS|L5/6 NP"},{"y":15,"t":"snCv3Z|L5/6 NP"},{"y":17,"t":"snCv3M|L6 CT"},{"y":19,"t":"scCv2|L6 CT"},{"y":21,"t":"snCv3Z|L6 CT"},{"y":23,"t":"snCv2|L6 CT"},{"y":25,"t":"atac|L6.CT"},{"y":27,"t":"scCv2|L5 ET"},{"y":29,"t":"scSS|L5 ET"},{"y":31,"t":"snCv2|L5 ET"},{"y":33,"t":"scCv3|L5 ET"},{"y":35,"t":"scSS|L6 IT"},{"y":37,"t":"scCv2|L6 IT"},{"y":39,"t":"snCv3Z|L6 IT"},{"y":41,"t":"snmc|L6−IT−Sulf1"},{"y":43,"t":"atac|L6.IT"},{"y":45,"t":"scCv2|L6 IT Car3"},{"y":47,"t":"snCv2|L6 IT Car3"},{"y":49,"t":"scCv2|L5 IT"},{"y":51,"t":"snSS|L5 IT"},{"y":53,"t":"snCv3Z|L5 IT"},{"y":55,"t":"atac|L4/5 IT"},{"y":57,"t":"scCv3|L2/3 IT"},{"y":59,"t":"snSS|L2/3 IT"},{"y":61,"t":"snCv3Z|L2/3 IT"},{"y":63,"t":"snmc|L2/3 IT"},{"y":65,"t":"atac|L2/3 IT"}]},"mark":{"type":"text","align":"left","baseline":"middle","dx":7.7,"dy":2,"fontSize":12.4,"color":"#222"},"encoding":{"x":{"datum":66,"type":"quantitative","axis":null,"scale":{"domain":[0,66],"range":[836,1235]}},"y":{"field":"y","type":"quantitative","axis":null,"scale":{"domain":[0,66],"range":[321,720]}},"text":{"field":"t"}}},
{"data":{"values":[{"i":1,"n":9},{"i":2,"n":1},{"i":3,"n":1},{"i":4,"n":2},{"i":5,"n":2},{"i":6,"n":1},{"i":7,"n":1},{"i":8,"n":1},{"i":9,"n":2}]},"mark":{"type":"bar","width":21,"color":"#3b3b3b"},"encoding":{"x":{"field":"i","type":"quantitative","scale":{"domain":[0,10],"range":[205.3,557.3],"padding":0,"nice":false},"axis":{"orient":"bottom","offset":-790.7,"ticks":false,"labels":false,"domainColor":"#444","title":null,"grid":false}},"y":{"field":"n","type":"quantitative","stack":null,"scale":{"domain":[0,10.38],"range":[1187.3,823]},"axis":{"orient":"left","offset":-205.3,"values":[0,2.5,5,7.5],"format":".1f","domainColor":"#444","tickColor":"#555","tickSize":6,"labelFontSize":16,"labelPadding":3,"title":"Number of meta-clusters","titleFontSize":16,"titlePadding":17}}}},
{"data":{"values":[{"s":"snmc","m":[1,1,0,0,0,0,0,0,0]},{"s":"atac","m":[1,0,1,1,0,1,0,0,0]},{"s":"scSS","m":[1,1,1,0,1,0,1,1,0]},{"s":"snCv3Z","m":[1,1,1,1,1,0,1,0,0]},{"s":"snSS","m":[1,1,1,1,1,1,0,0,0]},{"s":"snCv2","m":[1,1,1,1,1,1,0,1,0]},{"s":"scCv2","m":[1,1,1,1,1,1,1,1,0]},{"s":"snCv3M","m":[1,1,1,1,1,1,1,0,1]},{"s":"scCv3","m":[1,1,1,1,1,1,1,1,1]}]},"transform":[{"flatten":["m"]},{"window":[{"op":"row_number","as":"i"}],"groupby":["s"]}],"layer":[
{"transform":[{"filter":"indexof(['snmc','scSS','snSS','scCv2','scCv3'],datum.s)>=0 && datum.i==1"}],"mark":{"type":"rect","color":"#f5f5f5"},"encoding":{"x":{"datum":0,"type":"quantitative","axis":null,"scale":{"domain":[0,10],"range":[205.3,557.3],"nice":false}},"x2":{"datum":10},"y":{"field":"s","type":"nominal","sort":null,"scale":{"domain":["snmc","atac","scSS","snCv3Z","snSS","snCv2","scCv2","snCv3M","scCv3"],"range":[1193,1319],"paddingInner":0,"paddingOuter":0},"axis":{"orient":"left","offset":-205.3,"title":null,"domain":false,"ticks":false,"labelAlign":"center","labelPadding":27,"labelFontSize":16,"labelOverlap":false,"labelColor":{"condition":[{"test":"datum.value=='snmc'","value":"#377eb8"},{"test":"datum.value=='atac'","value":"#e41a1c"}],"value":"#4daf4a"}}}}},
{"mark":{"type":"point","filled":true,"size":28,"color":"#e6e6e6","opacity":1},"encoding":{"x":{"field":"i","type":"quantitative","axis":null},"y":{"field":"s","type":"nominal","sort":null}}},
{"transform":[{"filter":"datum.m==1"}],"mark":{"type":"point","filled":true,"size":36,"color":"#333","opacity":1},"encoding":{"x":{"field":"i","type":"quantitative","axis":null},"y":{"field":"s","type":"nominal","sort":null}}}
]},
{"data":{"values":[{"i":1,"a":"snmc","b":"scCv3"},{"i":2,"a":"snmc","b":"scCv3"},{"i":3,"a":"atac","b":"scCv3"},{"i":4,"a":"atac","b":"scCv3"},{"i":5,"a":"scSS","b":"scCv3"},{"i":6,"a":"atac","b":"scCv3"},{"i":7,"a":"scSS","b":"scCv3"},{"i":8,"a":"scSS","b":"scCv3"},{"i":9,"a":"snCv3M","b":"scCv3"}]},"mark":{"type":"rule","color":"#333","strokeWidth":2.7},"encoding":{"x":{"field":"i","type":"quantitative","axis":null,"scale":{"domain":[0,10],"range":[205.3,557.3]}},"y":{"field":"a","type":"nominal","axis":null,"scale":{"domain":["snmc","atac","scSS","snCv3Z","snSS","snCv2","scCv2","snCv3M","scCv3"],"range":[1193,1319],"paddingInner":0,"paddingOuter":0}},"y2":{"field":"b"}}},
{"data":{"values":[{"a":0,"b":1,"y":0},{"a":0,"b":1,"y":2.5},{"a":0,"b":1,"y":5},{"a":0,"b":1,"y":7.5},{"a":0,"b":1,"y":10}]},"mark":{"type":"rule","color":"#e8e8e8","strokeWidth":4.5},"encoding":{"x":{"field":"a","type":"quantitative","axis":null,"scale":{"domain":[0,1],"range":[662.3,929.7]}},"x2":{"field":"b"},"y":{"field":"y","type":"quantitative","axis":null,"scale":{"domain":[-0.48,10.05],"range":[1228,835.3]}}}},
{"data":{"values":[{"a":0,"b":1,"y":1.25},{"a":0,"b":1,"y":3.75},{"a":0,"b":1,"y":6.25},{"a":0,"b":1,"y":8.75}]},"mark":{"type":"rule","color":"#e8e8e8","strokeWidth":2.5},"encoding":{"x":{"field":"a","type":"quantitative","axis":null,"scale":{"domain":[0,1],"range":[662.3,929.7]}},"x2":{"field":"b"},"y":{"field":"y","type":"quantitative","axis":null,"scale":{"domain":[-0.48,10.05],"range":[1228,835.3]}}}},
{"data":{"values":[{"n":"atac","t":"ATAC","m":6.72,"hi":8.93,"lo":4.52},{"n":"scCv2","t":"RNA","m":6.93,"hi":8.27,"lo":5.59},{"n":"scCv3","t":"RNA","m":6.33,"hi":8.34,"lo":4.34},{"n":"scSS","t":"RNA","m":6.39,"hi":8.49,"lo":4.32},{"n":"snCv2","t":"RNA","m":6.87,"hi":8.24,"lo":5.52},{"n":"snCv3M","t":"RNA","m":5.66,"hi":8.53,"lo":2.81},{"n":"snCv3Z","t":"RNA","m":6.86,"hi":8.59,"lo":5.15},{"n":"snmc","t":"Methylation","m":7.16,"hi":9.56,"lo":4.78},{"n":"snSS","t":"RNA","m":7.1,"hi":8.15,"lo":6.06}]},"layer":[
{"mark":{"type":"rule","color":"#e8e8e8","strokeWidth":5.5},"encoding":{"x":{"field":"n","type":"nominal","sort":null,"scale":{"type":"point","padding":0.6,"range":[662.3,929.7],"domain":["atac","scCv2","scCv3","scSS","snCv2","snCv3M","snCv3Z","snmc","snSS"]},"axis":{"orient":"bottom","offset":-750,"labelAngle":-45,"labelAlign":"right","labelBaseline":"middle","labelFontSize":16,"labelPadding":6,"tickColor":"#555","tickSize":6,"domain":false,"title":"Reference dataset","titleFontSize":16,"titlePadding":8,"labelOverlap":false}},"y":{"datum":-0.48,"type":"quantitative","scale":{"domain":[-0.48,10.05],"range":[1228,835.3],"nice":false},"axis":{"orient":"left","offset":-662.3,"values":[0,2.5,5,7.5,10],"format":".1f","domain":false,"tickColor":"#555","tickSize":6,"labelFontSize":16,"labelPadding":3,"title":"Number of reciprocal best hits","titleFontSize":16,"titlePadding":13}},"y2":{"datum":10.05}}},
{"mark":{"type":"bar","width":26.2},"encoding":{"x":{"field":"n","type":"nominal","sort":null},"y":{"field":"m","type":"quantitative","stack":null},"color":{"field":"t","type":"nominal","legend":null,"scale":{"domain":["ATAC","Methylation","RNA"],"range":["#e41a1c","#377eb8","#4daf4a"]}}}},
{"mark":{"type":"rule","color":"#000","strokeWidth":3.3},"encoding":{"x":{"field":"n","type":"nominal","sort":null},"y":{"field":"lo","type":"quantitative"},"y2":{"field":"hi"}}}
]},
{"data":{"values":[{"a":0,"b":1,"c":-0.48,"d":10.05}]},"mark":{"type":"rect","fill":null,"stroke":"#555","strokeWidth":1.2},"encoding":{"x":{"field":"a","type":"quantitative","axis":null,"scale":{"domain":[0,1],"range":[662.3,929.7]}},"x2":{"field":"b"},"y":{"field":"c","type":"quantitative","axis":null,"scale":{"domain":[-0.48,10.05],"range":[1228,835.3]}},"y2":{"field":"d"}}},
{"data":{"values":[{"a":0,"b":1,"y":0.85},{"a":0,"b":1,"y":0.9},{"a":0,"b":1,"y":0.95},{"a":0,"b":1,"y":1}]},"mark":{"type":"rule","color":"#e8e8e8","strokeWidth":5},"encoding":{"x":{"field":"a","type":"quantitative","axis":null,"scale":{"domain":[0,1],"range":[1043.3,1311.7]}},"x2":{"field":"b"},"y":{"field":"y","type":"quantitative","axis":null,"scale":{"domain":[0.8489,1.00556],"range":[1226,831.7]}}}},
{"data":{"values":[{"a":0,"b":1,"y":0.875},{"a":0,"b":1,"y":0.925},{"a":0,"b":1,"y":0.975}]},"mark":{"type":"rule","color":"#e8e8e8","strokeWidth":2.7},"encoding":{"x":{"field":"a","type":"quantitative","axis":null,"scale":{"domain":[0,1],"range":[1043.3,1311.7]}},"x2":{"field":"b"},"y":{"field":"y","type":"quantitative","axis":null,"scale":{"domain":[0.8489,1.00556],"range":[1226,831.7]}}}},
{"data":{"values":[{"n":"atac","t":"ATAC","hi":0.9926,"q3":0.9787,"md":0.9512,"q1":0.9172,"lo":0.8561},{"n":"scCv2","t":"RNA","hi":0.9983,"q3":0.9939,"md":0.9865,"q1":0.9738,"lo":0.956},{"n":"scCv3","t":"RNA","hi":0.9978,"q3":0.9919,"md":0.9851,"q1":0.9724,"lo":0.9655},{"n":"scSS","t":"RNA","hi":0.9984,"q3":0.9902,"md":0.9857,"q1":0.9638,"lo":0.9499},{"n":"snCv2","t":"RNA","hi":0.9976,"q3":0.9933,"md":0.979,"q1":0.9553,"lo":0.9112},{"n":"snCv3M","t":"RNA","hi":0.9984,"q3":0.9943,"md":0.9708,"q1":0.928,"lo":0.8697},{"n":"snCv3Z","t":"RNA","hi":0.9978,"q3":0.993,"md":0.9857,"q1":0.9693,"lo":0.9492},{"n":"snmc","t":"Methylation","hi":0.9974,"q3":0.991,"md":0.9813,"q1":0.9632,"lo":0.941},{"n":"snSS","t":"RNA","hi":0.9974,"q3":0.9917,"md":0.9837,"q1":0.9663,"lo":0.9499}]},"layer":[
{"mark":{"type":"rule","color":"#e8e8e8","strokeWidth":6},"encoding":{"x":{"field":"n","type":"nominal","sort":null,"scale":{"type":"point","padding":0.6,"range":[1043.3,1311.7],"domain":["atac","scCv2","scCv3","scSS","snCv2","snCv3M","snCv3Z","snmc","snSS"]},"axis":{"orient":"bottom","offset":-752,"labelAngle":-45,"labelAlign":"right","labelBaseline":"middle","labelFontSize":16,"labelPadding":6,"tickColor":"#555","tickSize":6,"domain":false,"title":"Reference dataset","titleFontSize":16,"titlePadding":8,"labelOverlap":false}},"y":{"datum":0.8489,"type":"quantitative","scale":{"domain":[0.8489,1.00556],"range":[1226,831.7],"nice":false},"axis":{"orient":"left","offset":-1043.3,"values":[0.85,0.9,0.95,1],"format":".2f","domain":false,"tickColor":"#555","tickSize":6,"labelFontSize":16,"labelPadding":3,"title":"Cluster replicability (AUROC)","titleFontSize":16,"titlePadding":16}},"y2":{"datum":1.00556}}},
{"mark":{"type":"rule","color":"#000","strokeWidth":3.3},"encoding":{"x":{"field":"n","type":"nominal","sort":null},"y":{"field":"lo","type":"quantitative"},"y2":{"field":"hi"}}},
{"mark":{"type":"bar","width":20.5,"stroke":"#000","strokeWidth":3.3,"cornerRadius":1.5},"encoding":{"x":{"field":"n","type":"nominal","sort":null},"y":{"field":"q1","type":"quantitative"},"y2":{"field":"q3"},"color":{"field":"t","type":"nominal","legend":null,"scale":{"domain":["ATAC","Methylation","RNA"],"range":["#e41a1c","#377eb8","#4daf4a"]}}}},
{"mark":{"type":"tick","thickness":6,"size":22,"color":"#000","opacity":1},"encoding":{"x":{"field":"n","type":"nominal","sort":null},"y":{"field":"md","type":"quantitative"}}}
]},
{"data":{"values":[{"n":"scCv2","y":0.911},{"n":"scCv3","y":0.9168},{"n":"scSS","y":0.9235},{"n":"snmc","y":0.9093}]},"mark":{"type":"point","filled":true,"size":30,"color":"#000","opacity":1},"encoding":{"x":{"field":"n","type":"nominal","axis":null,"scale":{"type":"point","padding":0.6,"range":[1043.3,1311.7],"domain":["atac","scCv2","scCv3","scSS","snCv2","snCv3M","snCv3Z","snmc","snSS"]}},"y":{"field":"y","type":"quantitative","axis":null,"scale":{"domain":[0.8489,1.00556],"range":[1226,831.7]}}}},
{"data":{"values":[{"a":0,"b":1,"c":0.8489,"d":1.00556}]},"mark":{"type":"rect","fill":null,"stroke":"#555","strokeWidth":1.2},"encoding":{"x":{"field":"a","type":"quantitative","axis":null,"scale":{"domain":[0,1],"range":[1043.3,1311.7]}},"x2":{"field":"b"},"y":{"field":"c","type":"quantitative","axis":null,"scale":{"domain":[0.8489,1.00556],"range":[1226,831.7]}},"y2":{"field":"d"}}},
{"data":{"values":[
{"k":"b","x":0,"y":1,"t":"Fig. 15 | MetaNeighbor finds replicable cell types in a multimodal dataset of the mouse primary motor cortex. a"},{"k":"r","x":1,"y":1,"t":", Heatmap based on MetaNeighbor"},
{"k":"n","x":0,"y":2,"t":"AUROCs for IT projecting cell types, where cell types are grouped by applying"},{"k":"r","x":1,"y":2,"t":"hierarchical clustering. Column annotation colors indicate the"},
{"k":"n","x":0,"y":3,"t":"sequencing modality (expression, chromatin accessibility or methylation)."},{"k":"b","x":0.512,"y":3,"t":"b"},{"k":"n","x":0.52,"y":3,"t":", Heatmap based on MetaNeighbor"},{"k":"r","x":1,"y":3,"t":"AUROCs for excitatory cell types,"},
{"k":"n","x":0,"y":4,"t":"where cell types are grouped by applying hierarchical clustering. Column annotation colors as in"},{"k":"b","x":0.65,"y":4,"t":"a. c"},{"k":"r","x":1,"y":4,"t":", Upset plot showing the number of cell types that"},
{"k":"n","x":0,"y":5,"t":"replicate across given combinations of datasets (meta-clusters). For example,"},{"k":"r","x":0.913,"y":5,"t":"nine cell types were found to replicate across all datasets."},{"k":"b","x":0.916,"y":5,"t":"d"},{"k":"r","x":1,"y":5,"t":", Number of"},
{"k":"n","x":0,"y":6,"t":"reciprocal best hits for each dataset in the primary motor cortex compendium."},{"k":"r","x":1,"y":6,"t":"The height of each bar indicates the average number of hits across cell"},
{"k":"n","x":0,"y":7,"t":"types, and the line indicates the standard deviation."},{"k":"b","x":0.354,"y":7,"t":"e"},{"k":"n","x":0.363,"y":7,"t":", Boxplot showing the strength of cluster replicability"},{"k":"r","x":1,"y":7,"t":"(MetaNeighbor AUROC) across cell types"},
{"k":"n","x":0,"y":8,"t":"for each dataset in the primary motor cortex compendium. The lower and upper"},{"k":"r","x":1,"y":8,"t":"hinges of the boxplots represent the first and third quartile, the central"},
{"k":"n","x":0,"y":9,"t":"line represents the median, and the upper (respectively lower) whisker extends"},{"k":"r","x":1,"y":9,"t":"to the largest (respectively smallest) value within 1.5 interquartile"},
{"k":"n","x":0,"y":10,"t":"range of the hinge. All points beyond 1.5 interquartile range are drawn individually."}
]},"encoding":{"x":{"field":"x","type":"quantitative","axis":null,"scale":{"domain":[0,1],"range":[127,1360.5]}},"y":{"field":"y","type":"quantitative","axis":null,"scale":{"domain":[1,10],"range":[1348.3,1561]}},"text":{"field":"t"}},"layer":[
{"transform":[{"filter":"datum.k=='n'"}],"mark":{"type":"text","align":"left","baseline":"middle","font":"Lato","fontSize":18.6,"color":"#333"}},
{"transform":[{"filter":"datum.k=='r'"}],"mark":{"type":"text","align":"right","baseline":"middle","font":"Lato","fontSize":18.6,"color":"#333"}},
{"transform":[{"filter":"datum.k=='b'"}],"mark":{"type":"text","align":"left","baseline":"middle","font":"Lato","fontWeight":"bold","fontSize":18.6,"color":"#222"}}
]},
{"data":{"values":[
{"k":"n","x":0.2257,"y":1,"t":"gene-level quantification only imperfectly captures"},{"k":"r","x":1,"y":1,"t":"the variability of the modality and that a slightly"},
{"k":"n","x":0.2257,"y":2,"t":"more lenient AUROC threshold may be applied (e.g., AUROC >0.85)."},{"k":"r","x":1,"y":2,"t":"Note that MetaNeighbor can"},
{"k":"n","x":0.2257,"y":3,"t":"also be used for cross-species analyses"},{"k":"s","x":0.534,"y":2.76,"t":"6"},{"k":"n","x":0.5445,"y":3,"t":"and that similar considerations"},{"k":"r","x":1,"y":3,"t":"may apply. When distant"},
{"k":"n","x":0.2257,"y":4,"t":"species are included in the analyses, expression signatures are"},{"k":"r","x":1,"y":4,"t":"expected to diverge, resulting in lower"},
{"k":"n","x":0.2257,"y":5,"t":"AUROC values overall."}
]},"encoding":{"x":{"field":"x","type":"quantitative","axis":null,"scale":{"domain":[0,1],"range":[127,1360.5]}},"y":{"field":"y","type":"quantitative","axis":null,"scale":{"domain":[1,5],"range":[1655,1770]}},"text":{"field":"t"}},"layer":[
{"transform":[{"filter":"datum.k=='n'"}],"mark":{"type":"text","align":"left","baseline":"middle","font":"Liberation Serif","fontSize":23.4,"color":"#222"}},
{"transform":[{"filter":"datum.k=='r'"}],"mark":{"type":"text","align":"right","baseline":"middle","font":"Liberation Serif","fontSize":23.4,"color":"#222"}},
{"transform":[{"filter":"datum.k=='s'"}],"mark":{"type":"text","align":"center","baseline":"middle","font":"Liberation Serif","fontSize":13,"color":"#4a72b0"}}
]}
]}
